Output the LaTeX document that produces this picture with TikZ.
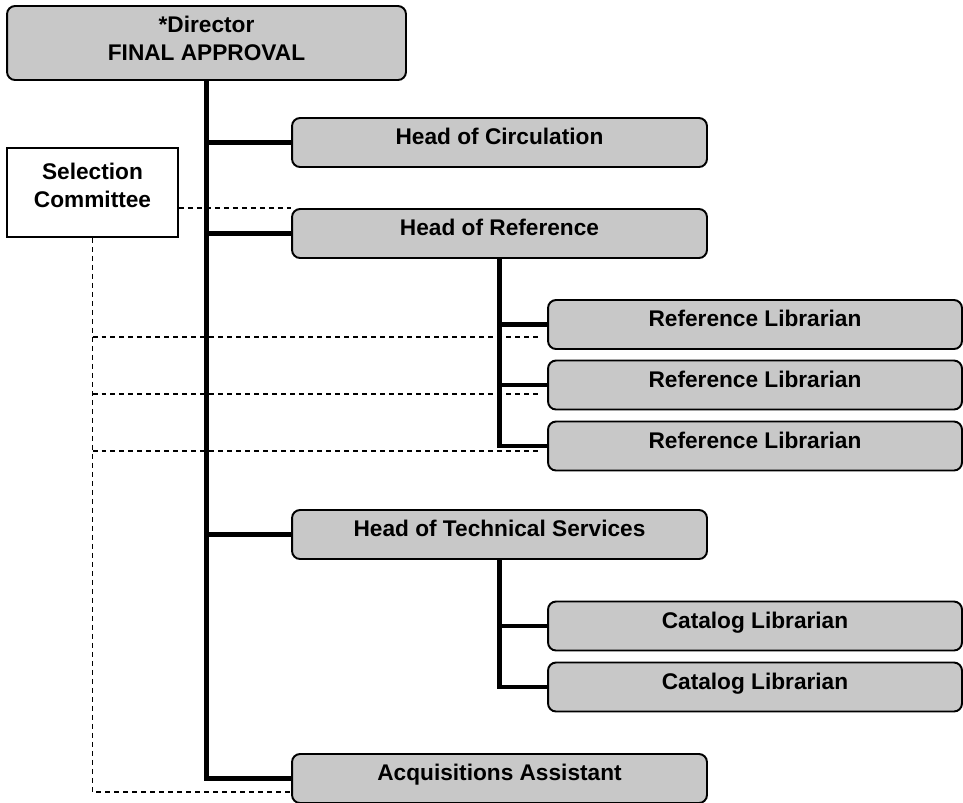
\documentclass[tikz,border=0pt]{standalone}
\usepackage{fontspec}
\setmainfont{Liberation Sans}
\usetikzlibrary{positioning, calc}
\definecolor{boxgray}{HTML}{C8C8C8}
\definecolor{inkblack}{HTML}{000000}

\begin{document}
\begin{tikzpicture}[x=0.02cm, y=-0.02cm,
  orgbox/.style={draw=inkblack, fill=boxgray, line width=1.1pt, rounded corners=0.16cm,
    font=\fontsize{12.9}{15.9}\selectfont\bfseries, inner sep=0pt, text depth=0.23cm},
  headbox/.style={orgbox, minimum width=8.3cm, minimum height=0.98cm},
  staffbox/.style={orgbox, minimum width=8.28cm, minimum height=0.98cm},
  trunk/.style={line width=2.8pt, inkblack},
  sellink/.style={line width=0.8pt, inkblack, dash pattern=on 0.1cm off 0.08cm}]

% Page
\fill[white] (0,0) rectangle (963,802);
\useasboundingbox (0,0) rectangle (963,802);

% Top of the chart
\node[orgbox, minimum width=7.98cm, minimum height=1.48cm, align=center, text depth=0.17cm]
  (director) at (206.5,43) {*Director\\FINAL APPROVAL};
\node[orgbox, fill=white, sharp corners, minimum width=3.42cm, minimum height=1.78cm,
  align=center, text depth=0.29cm] (selcom) at (92.5,192.5) {Selection\\Committee};

% Department heads
\node[headbox] (circ) at (499.5,142.5) {Head of Circulation};
\node[headbox] (headref) at (499.5,233.5) {Head of Reference};
\node[headbox] (headtech) at (499.5,534.5) {Head of Technical Services};
\node[headbox] (acq) at (499.5,778.5) {Acquisitions Assistant};

% Librarians
\foreach \y [count=\i] in {324.5,385,446}
  \node[staffbox] (reflib\i) at (755,\y) {Reference Librarian};
\foreach \y [count=\i] in {626,687}
  \node[staffbox] (catlib\i) at (755,\y) {Catalog Librarian};

% Selection committee links
\draw[sellink] (selcom.east |- headref.north west) -- (headref.north west);
\coordinate (selfoot) at (0,792);
\draw[sellink] (selcom.south) |- (acq.west |- selfoot);
\foreach \y [count=\i] in {337,394,451} {
  \coordinate (reftap\i) at (540,\y);
  \draw[sellink] (selcom.south |- reftap\i) -- (reftap\i);
}

% Reporting lines
\draw[trunk] (director.south) |- (acq.west);
\foreach \n in {circ, headref, headtech}
  \draw[trunk] (director.south |- \n.west) -- (\n.west);
\draw[trunk] (headref.south) |- (reflib3.west);
\foreach \i in {1,2}
  \draw[trunk] (headref.south |- reflib\i.west) -- (reflib\i.west);
\draw[trunk] (headtech.south) |- (catlib2.west);
\draw[trunk] (headtech.south |- catlib1.west) -- (catlib1.west);

\end{tikzpicture}
\end{document}
